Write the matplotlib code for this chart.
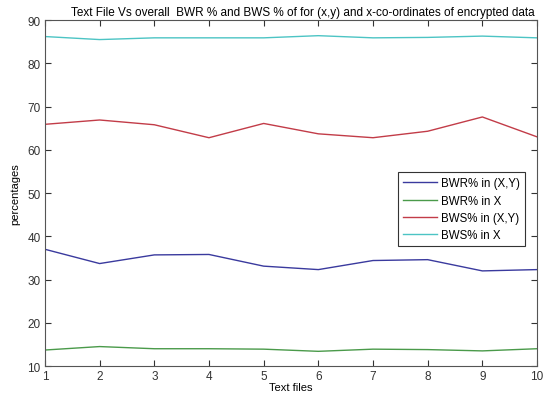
import numpy as np
import matplotlib
matplotlib.use('Agg')
import matplotlib.pyplot as plt

plt.rcParams['font.family'] = ['Liberation Sans', 'DejaVu Sans']

files = [1, 2, 3, 4, 5, 6, 7, 8, 9, 10]
bwr_xy = [37.0, 33.7, 35.7, 35.8, 33.1, 32.3, 34.4, 34.6, 32.0, 32.3]
bwr_x = [13.7, 14.5, 14.0, 14.0, 13.9, 13.4, 13.9, 13.8, 13.5, 14.0]
bws_xy = [65.9, 66.9, 65.8, 62.8, 66.1, 63.7, 62.8, 64.3, 67.6, 63.0]
bws_x = [86.2, 85.5, 85.9, 85.9, 85.9, 86.4, 85.9, 86.0, 86.3, 85.9]

labels = ['BWR% in (X,Y)', 'BWR% in X', 'BWS% in (X,Y)', 'BWS% in X']
colors = ['#3a3a9e', '#4a9a4a', '#c23c48', '#4cc4c4']

fig = plt.figure(figsize=(5.48, 4.06), dpi=100)
ax = fig.add_axes([0.082, 0.096, 0.898, 0.852])

for y, lab, c in zip([bwr_xy, bwr_x, bws_xy, bws_x], labels, colors):
    ax.plot(files, y, color=c, lw=1.0, label=lab)

ax.set_xlim(1, 10)
ax.set_ylim(10, 90)
ax.set_xticks(files)
ax.set_yticks(np.arange(10, 91, 10))
ax.tick_params(direction='in', top=True, right=True, length=4, width=0.8,
               labelsize=8.5, colors='#333333', pad=3)
for s in ax.spines.values():
    s.set_color('#555555')
    s.set_linewidth(0.8)

ax.set_title('Text File Vs overall  BWR % and BWS % of for (x,y) and x-co-ordinates of encrypted data',
             fontsize=8.5, pad=4, x=0.525)
ax.set_xlabel('Text files', fontsize=8, labelpad=0)
ax.set_ylabel('percentages', fontsize=8, labelpad=5)

leg = ax.legend(loc='upper right', bbox_to_anchor=(0.987, 0.577), fontsize=8.3,
                fancybox=False, framealpha=1, edgecolor='#333333',
                handlelength=3.0, borderpad=0.45, labelspacing=0.45, handletextpad=0.3)
leg.get_frame().set_linewidth(0.8)

fig.savefig('out.png', dpi=100)
